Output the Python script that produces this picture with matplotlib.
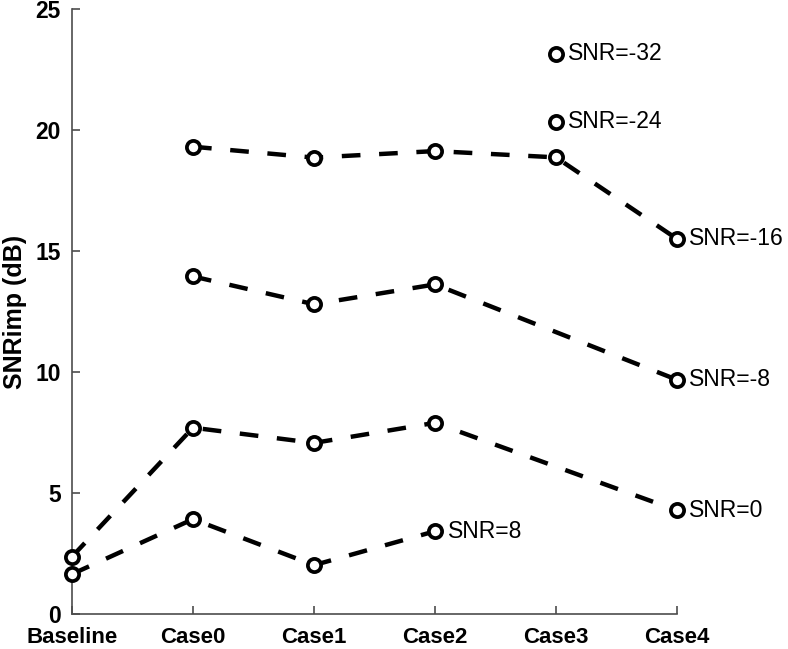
import numpy as np
import matplotlib
matplotlib.use('Agg')
import matplotlib.pyplot as plt

plt.rcParams['font.family'] = ['Liberation Sans', 'DejaVu Sans']

categories = ['Baseline', 'Case0', 'Case1', 'Case2', 'Case3', 'Case4']

# each series: categories where it has a point, and the values there
snr8_x = ['Baseline', 'Case0', 'Case1', 'Case2']
snr8_y = [1.65, 3.92, 2.02, 3.42]
snr0_x = ['Baseline', 'Case0', 'Case1', 'Case2', 'Case4']
snr0_y = [2.37, 7.70, 7.07, 7.90, 4.28]
snrm8_x = ['Case0', 'Case1', 'Case2', 'Case4']
snrm8_y = [13.95, 12.80, 13.62, 9.68]
snrm16_x = ['Case0', 'Case1', 'Case2', 'Case3', 'Case4']
snrm16_y = [19.31, 18.86, 19.13, 18.87, 15.50]
snrm24_x = ['Case3']
snrm24_y = [20.35]
snrm32_x = ['Case3']
snrm32_y = [23.15]

series = [(snr8_x, snr8_y, 'SNR=8'),
          (snr0_x, snr0_y, 'SNR=0'),
          (snrm8_x, snrm8_y, 'SNR=-8'),
          (snrm16_x, snrm16_y, 'SNR=-16'),
          (snrm24_x, snrm24_y, 'SNR=-24'),
          (snrm32_x, snrm32_y, 'SNR=-32')]

fig = plt.figure(figsize=(7.88, 6.49), dpi=100)
ax = fig.add_axes([0.0914, 0.0539, 0.7677, 0.9322])

pos = {c: i for i, c in enumerate(categories)}
for xs, ys, name in series:
    xi = [pos[c] for c in xs]
    ln, = ax.plot(xi, ys, color='black', lw=3.2, marker='o', ms=9.5,
                  mfc='white', mec='black', mew=2.7, clip_on=False, zorder=3)
    ln.set_dashes([4.2, 4.2])
    ln.set_dash_capstyle('butt')
    ax.annotate(name, (xi[-1], ys[-1]), xytext=(9, 0), textcoords='offset points',
                ha='left', va='center', fontsize=16.5, color='black')

ax.set_xlim(0, len(categories) - 1)
ax.set_ylim(0, 25)
ax.set_xticks(range(len(categories)))
ax.set_xticklabels(categories, fontsize=16, fontweight='bold')
ax.set_yticks([0, 5, 10, 15, 20, 25])
ax.set_yticklabels(['0', '5', '10', '15', '20', '25'], fontsize=16.5, fontweight='bold')
ax.set_ylabel('SNRimp (dB)', fontsize=18, fontweight='bold', labelpad=6)

for s in ['top', 'right']:
    ax.spines[s].set_visible(False)
for s in ['left', 'bottom']:
    ax.spines[s].set_color('#4d4d4d')
    ax.spines[s].set_linewidth(1.2)
ax.tick_params(direction='in', length=6, width=1.2, color='#4d4d4d', pad=8)
ax.tick_params(axis='x', pad=9)

fig.savefig('out.png', dpi=100)
